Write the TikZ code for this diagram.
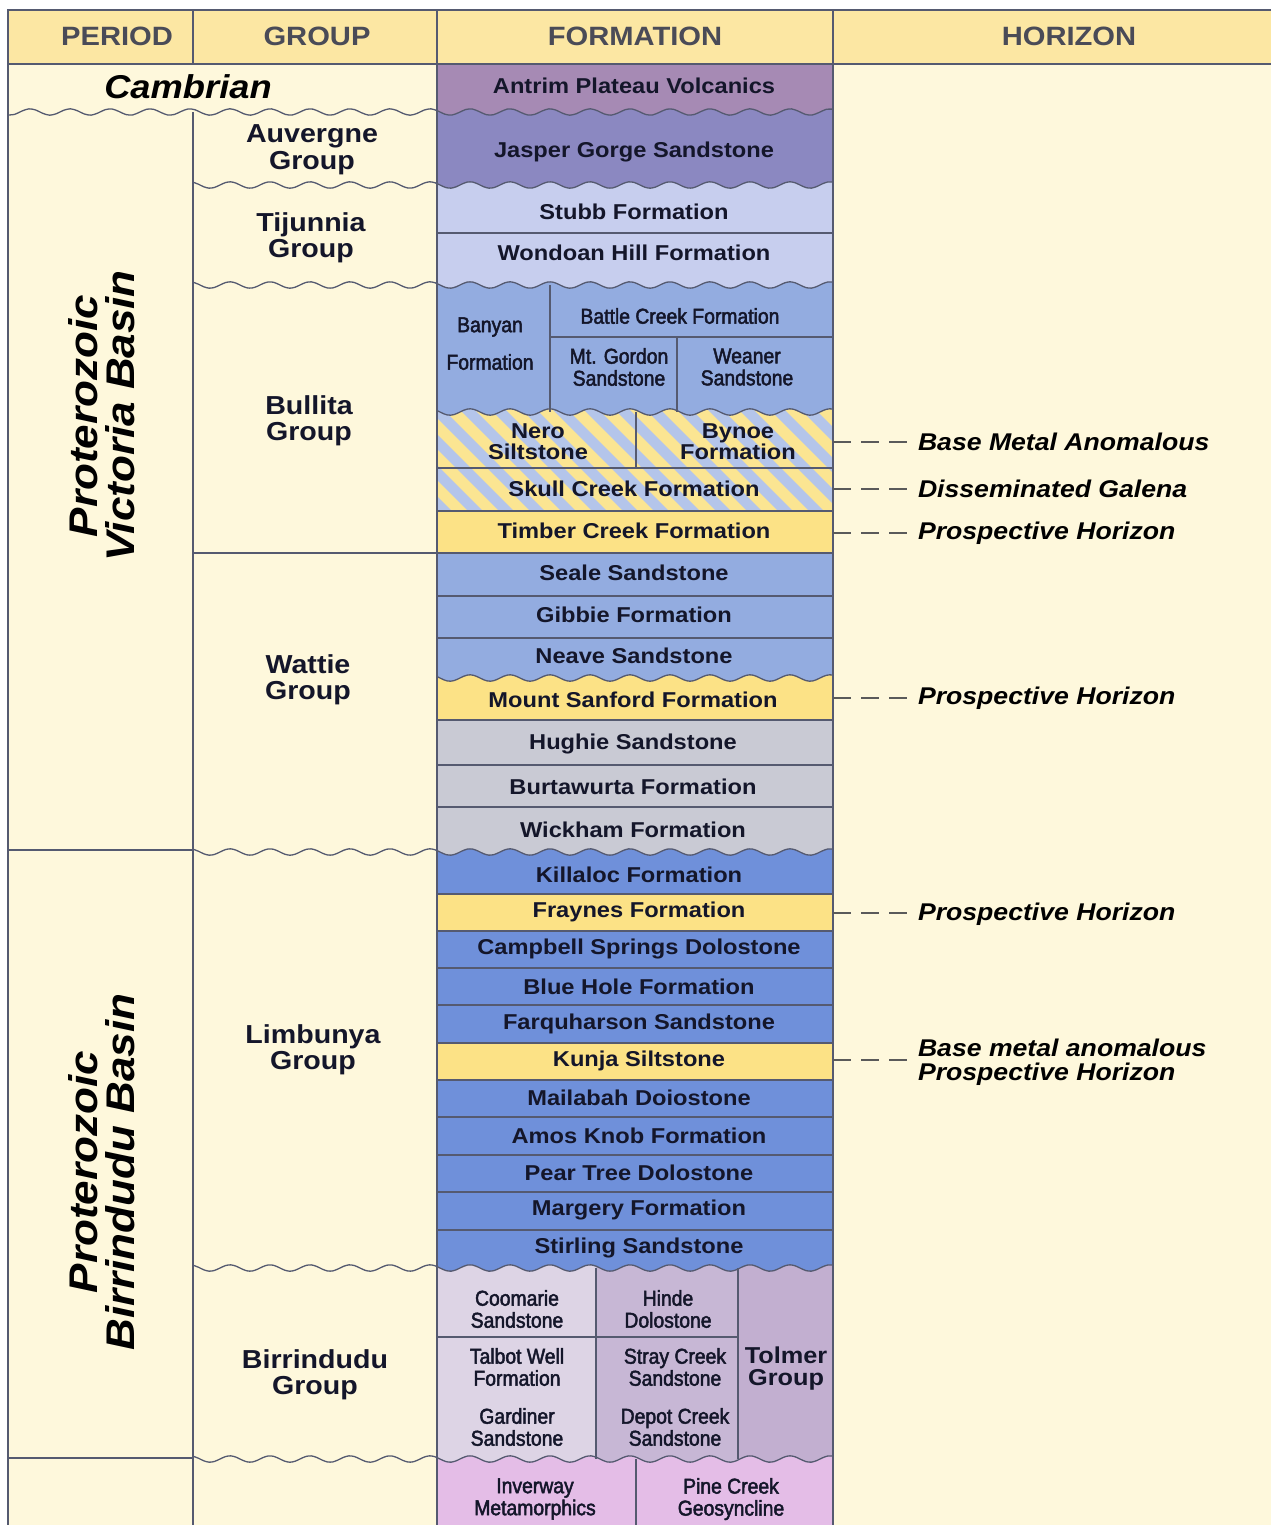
\documentclass[tikz,border=0pt]{standalone}
\usepackage{fontspec}
\setmainfont{Liberation Sans}
\newfontfamily\bfam{Liberation Sans}[FakeStretch=1.1]
\newfontfamily\nfam{Liberation Sans}[FakeStretch=0.9,FakeBold=2.2]
\definecolor{cream}{HTML}{FEF8DC}
\definecolor{hdr}{HTML}{FCE7A3}
\definecolor{hdrtext}{HTML}{4A4B57}
\definecolor{fmtext}{HTML}{14162A}
\definecolor{antrim}{HTML}{A68AB4}
\definecolor{jasper}{HTML}{8B88C1}
\definecolor{lav}{HTML}{C7CEEE}
\definecolor{blueA}{HTML}{93ACE0}
\definecolor{yel}{HTML}{FCE286}
\definecolor{grayc}{HTML}{C9CAD4}
\definecolor{blueB}{HTML}{6F90DA}
\definecolor{hblue}{HTML}{B4C5EA}
\definecolor{hyel}{HTML}{FBE592}
\definecolor{mauveA}{HTML}{DDD4E5}
\definecolor{mauveB}{HTML}{C7B7D5}
\definecolor{mauveC}{HTML}{C2AFD0}
\definecolor{pinkc}{HTML}{E4BDE7}
\definecolor{linec}{HTML}{555A70}
\definecolor{dashgray}{HTML}{5A5A5A}
\newcommand\fcell[7]{\fill[#5] plot[domain=#1:#2,samples=90] (\x,{#3+#6*sin(9*\x)}) -- plot[domain=#2:#1,samples=90] (\x,{#4+#7*sin(9*\x)}) -- cycle;}
\newcommand\wline[3]{\draw[wavel] plot[domain=#1:#2,samples=120,smooth] (\x,{#3+3.2*sin(9*\x)});}
\begin{document}
\begin{tikzpicture}[x=1pt,y=-1pt,
  coll/.style={draw=linec,line width=1.8pt},
  thinl/.style={draw=linec,line width=1.1pt},
  wavel/.style={draw=linec,line width=1.3pt},
  hdrt/.style={font=\bfam\bfseries\fontsize{26.5}{28}\selectfont,text=hdrtext,inner sep=0pt},
  grp/.style={font=\bfam\bfseries\fontsize{26}{26.5}\selectfont,align=center,text=fmtext,inner sep=0pt},
  fm/.style={font=\bfam\bfseries\fontsize{21.5}{21}\selectfont,align=center,text=fmtext,inner sep=0pt},
  nf/.style={font=\nfam\fontsize{21.5}{22}\selectfont,align=center,text=fmtext,inner sep=0pt},
  hz/.style={font=\bfam\bfseries\itshape\fontsize{24.2}{24}\selectfont,anchor=west,align=left,text=black,inner sep=0pt,outer sep=6pt},
  per/.style={font=\bfam\bfseries\itshape\fontsize{40}{37}\selectfont,align=center,rotate=90,text=black,inner sep=0pt},
  dashc/.style={draw=dashgray,line width=1.5pt,dash pattern=on 18pt off 10pt}]
\useasboundingbox (0,0) rectangle (1271,1525);
\fill[white] (0,0) rectangle (1271,1525);
\fill[hdr] (8,10) rectangle (1271,64);
\fill[cream] (8,64) rectangle (1271,1525);
% ---- formation fills
\fcell{437}{833}{64}{112}{antrim}{0}{3.2}
\fcell{437}{833}{112}{185}{jasper}{3.2}{3.2}
\fcell{437}{833}{185}{285}{lav}{3.2}{3.2}
\fcell{437}{833}{285}{412}{blueA}{3.2}{3.2}
\begin{scope}
  \clip plot[domain=437:833,samples=90] (\x,{412+3.2*sin(9*\x)}) -- (833,511) -- (437,511) -- cycle;
  \fill[hblue] (437,400) rectangle (833,512);
  \foreach \k in {-5,...,14} \draw[hyel,line width=11pt] (437+31*\k,395) -- ++(125,125);
\end{scope}
\fill[yel] (437,511) rectangle (833,553);
\fcell{437}{833}{553}{678}{blueA}{0}{3.2}
\fcell{437}{833}{678}{720}{yel}{3.2}{0}
\fcell{437}{833}{720}{852}{grayc}{0}{3.2}
\fcell{437}{833}{852}{894}{blueB}{3.2}{0}
\fill[yel] (437,894) rectangle (833,931);
\fill[blueB] (437,931) rectangle (833,1043);
\fill[yel] (437,1043) rectangle (833,1080);
\fcell{437}{833}{1080}{1268}{blueB}{0}{3.2}
\fcell{437}{596}{1268}{1459}{mauveA}{3.2}{3.2}
\fcell{596}{738}{1268}{1459}{mauveB}{3.2}{3.2}
\fcell{738}{833}{1268}{1459}{mauveC}{3.2}{3.2}
\fcell{437}{833}{1459}{1530}{pinkc}{3.2}{0}
% ---- thin formation lines
\foreach \yy in {233,468,511,553,596,638,720,765,807,894,931,968,1005,1043,1080,1117,1155,1192,1230}
  \draw[thinl] (437,\yy) -- (833,\yy);
\draw[thinl] (550,337) -- (833,337);
\draw[thinl] (437,1337) -- (738,1337);
\draw[thinl] (550,285) -- (550,412);
\draw[thinl] (677,337) -- (677,412);
\draw[thinl] (636,412) -- (636,468);
\draw[thinl] (596,1268) -- (596,1459);
\draw[thinl] (738,1268) -- (738,1459);
\draw[thinl] (636,1459) -- (636,1525);
% ---- wavy lines
\wline{8}{833}{112}
\wline{193}{833}{185}
\wline{193}{833}{285}
\wline{437}{833}{412}
\wline{437}{833}{678}
\wline{193}{833}{852}
\wline{193}{833}{1268}
\wline{193}{833}{1459}
% ---- column lines
\draw[coll] (8,1525) -- (8,10) -- (1271,10);
\draw[coll] (8,64) -- (1271,64);
\draw[coll] (193,10) -- (193,64);
\draw[coll] (193,112) -- (193,1525);
\draw[coll] (437,10) -- (437,1525);
\draw[coll] (833,10) -- (833,1525);
\draw[thinl] (8,850) -- (193,850);
\draw[thinl] (8,1458) -- (193,1458);
\draw[thinl] (193,553) -- (437,553);
% ---- header
\node[hdrt] (hper) at (117,36) {PERIOD};
\node[hdrt] (hgrp) at (317,36) {GROUP};
\node[hdrt] (hfor) at (635,36) {FORMATION};
\node[hdrt] (hhor) at (1069,36) {HORIZON};
% ---- period
\node[font=\bfam\bfseries\itshape\fontsize{33}{33}\selectfont,inner sep=0pt] (camb) at (188,87) {Cambrian};
\node[per] (pvic) at (102,416) {Proterozoic\\Victoria Basin};
\node[per] (pbir) at (102,1172) {Proterozoic\\Birrindudu Basin};
% ---- groups
\node[grp] (gauv) at (312,150) {Auvergne\\Group};
\node[grp] (gtij) at (311,238) {Tijunnia\\Group};
\node[grp] (gbul) at (309,421) {Bullita\\Group};
\node[grp] (gwat) at (308,680) {Wattie\\Group};
\node[grp] (glim) at (313,1050) {Limbunya\\Group};
\node[grp] (gbir) at (315,1375) {Birrindudu\\Group};
% ---- formations
\node[fm] (fantrim) at (634,86) {Antrim Plateau Volcanics};
\node[fm] (fjasper) at (634,152) {Jasper Gorge Sandstone};
\node[fm] (fstubb) at (634,212) {Stubb Formation};
\node[fm] (fwond) at (634,253) {Wondoan Hill Formation};
\node[nf] (fbany1) at (490,327) {Banyan};
\node[nf] (fbany2) at (490,362) {Formation};
\node[nf] (fbattle) at (680,316) {Battle Creek Formation};
\node[nf] (fgordon) at (619,367) {Mt. Gordon\\Sandstone};
\node[nf] (fweaner) at (747,367) {Weaner\\Sandstone};
\node[fm] (fnero) at (538,442) {Nero\\Siltstone};
\node[fm] (fbynoe) at (738,442) {Bynoe\\Formation};
\node[fm] (fskull) at (634,489) {Skull Creek Formation};
\node[fm] (ftimber) at (634,531) {Timber Creek Formation};
\node[fm] (fseale) at (634,573) {Seale Sandstone};
\node[fm] (fgibbie) at (634,615) {Gibbie Formation};
\node[fm] (fneave) at (634,656) {Neave Sandstone};
\node[fm] (fsanford) at (633,700) {Mount Sanford Formation};
\node[fm] (fhughie) at (633,744) {Hughie Sandstone};
\node[fm] (fburta) at (633,787) {Burtawurta Formation};
\node[fm] (fwick) at (633,830) {Wickham Formation};
\node[fm] (fkill) at (639,875) {Killaloc Formation};
\node[fm] (ffray) at (639,912) {Fraynes Formation};
\node[fm] (fcamp) at (639,949) {Campbell Springs Dolostone};
\node[fm] (fblue) at (639,987) {Blue Hole Formation};
\node[fm] (ffarq) at (639,1024) {Farquharson Sandstone};
\node[fm] (fkunja) at (639,1061) {Kunja Siltstone};
\node[fm] (fmaila) at (639,1098) {Mailabah Doiostone};
\node[fm] (famos) at (639,1136) {Amos Knob Formation};
\node[fm] (fpear) at (639,1173) {Pear Tree Dolostone};
\node[fm] (fmarg) at (639,1210) {Margery Formation};
\node[fm] (fstir) at (639,1248) {Stirling Sandstone};
\node[nf] (fcoom) at (517,1309) {Coomarie\\Sandstone};
\node[nf] (fhinde) at (668,1309) {Hinde\\Dolostone};
\node[nf] (ftalbot) at (517,1367) {Talbot Well\\Formation};
\node[nf] (fgard) at (517,1427) {Gardiner\\Sandstone};
\node[nf] (fstray) at (675,1367) {Stray Creek\\Sandstone};
\node[nf] (fdepot) at (675,1427) {Depot Creek\\Sandstone};
\node[fm,font=\bfam\bfseries\fontsize{23}{22}\selectfont] (ftolmer) at (786,1369) {Tolmer\\Group};
\node[nf] (finver) at (535,1499) {Inverway\\Metamorphics};
\node[nf] (fpine) at (731,1499) {Pine Creek\\Geosyncline};
% ---- horizons
\node[hz] (hz1) at (912,442) {Base Metal Anomalous};
\node[hz] (hz2) at (912,489) {Disseminated Galena};
\node[hz] (hz3) at (912,533) {Prospective Horizon};
\node[hz] (hz4) at (912,698) {Prospective Horizon};
\node[hz] (hz5) at (912,914) {Prospective Horizon};
\node[hz] (hz6) at (912,1062) {Base metal anomalous\\Prospective Horizon};
\coordinate (c1) at (833,442);
\coordinate (c2) at (833,489);
\coordinate (c3) at (833,533);
\coordinate (c4) at (833,698);
\coordinate (c5) at (833,913);
\coordinate (c6) at (833,1060);
\draw[dashc] (c1) -- (c1 -| hz1.west);
\draw[dashc] (c2) -- (c2 -| hz2.west);
\draw[dashc] (c3) -- (c3 -| hz3.west);
\draw[dashc] (c4) -- (c4 -| hz4.west);
\draw[dashc] (c5) -- (c5 -| hz5.west);
\draw[dashc] (c6) -- (c6 -| hz6.west);
\end{tikzpicture}
\end{document}
